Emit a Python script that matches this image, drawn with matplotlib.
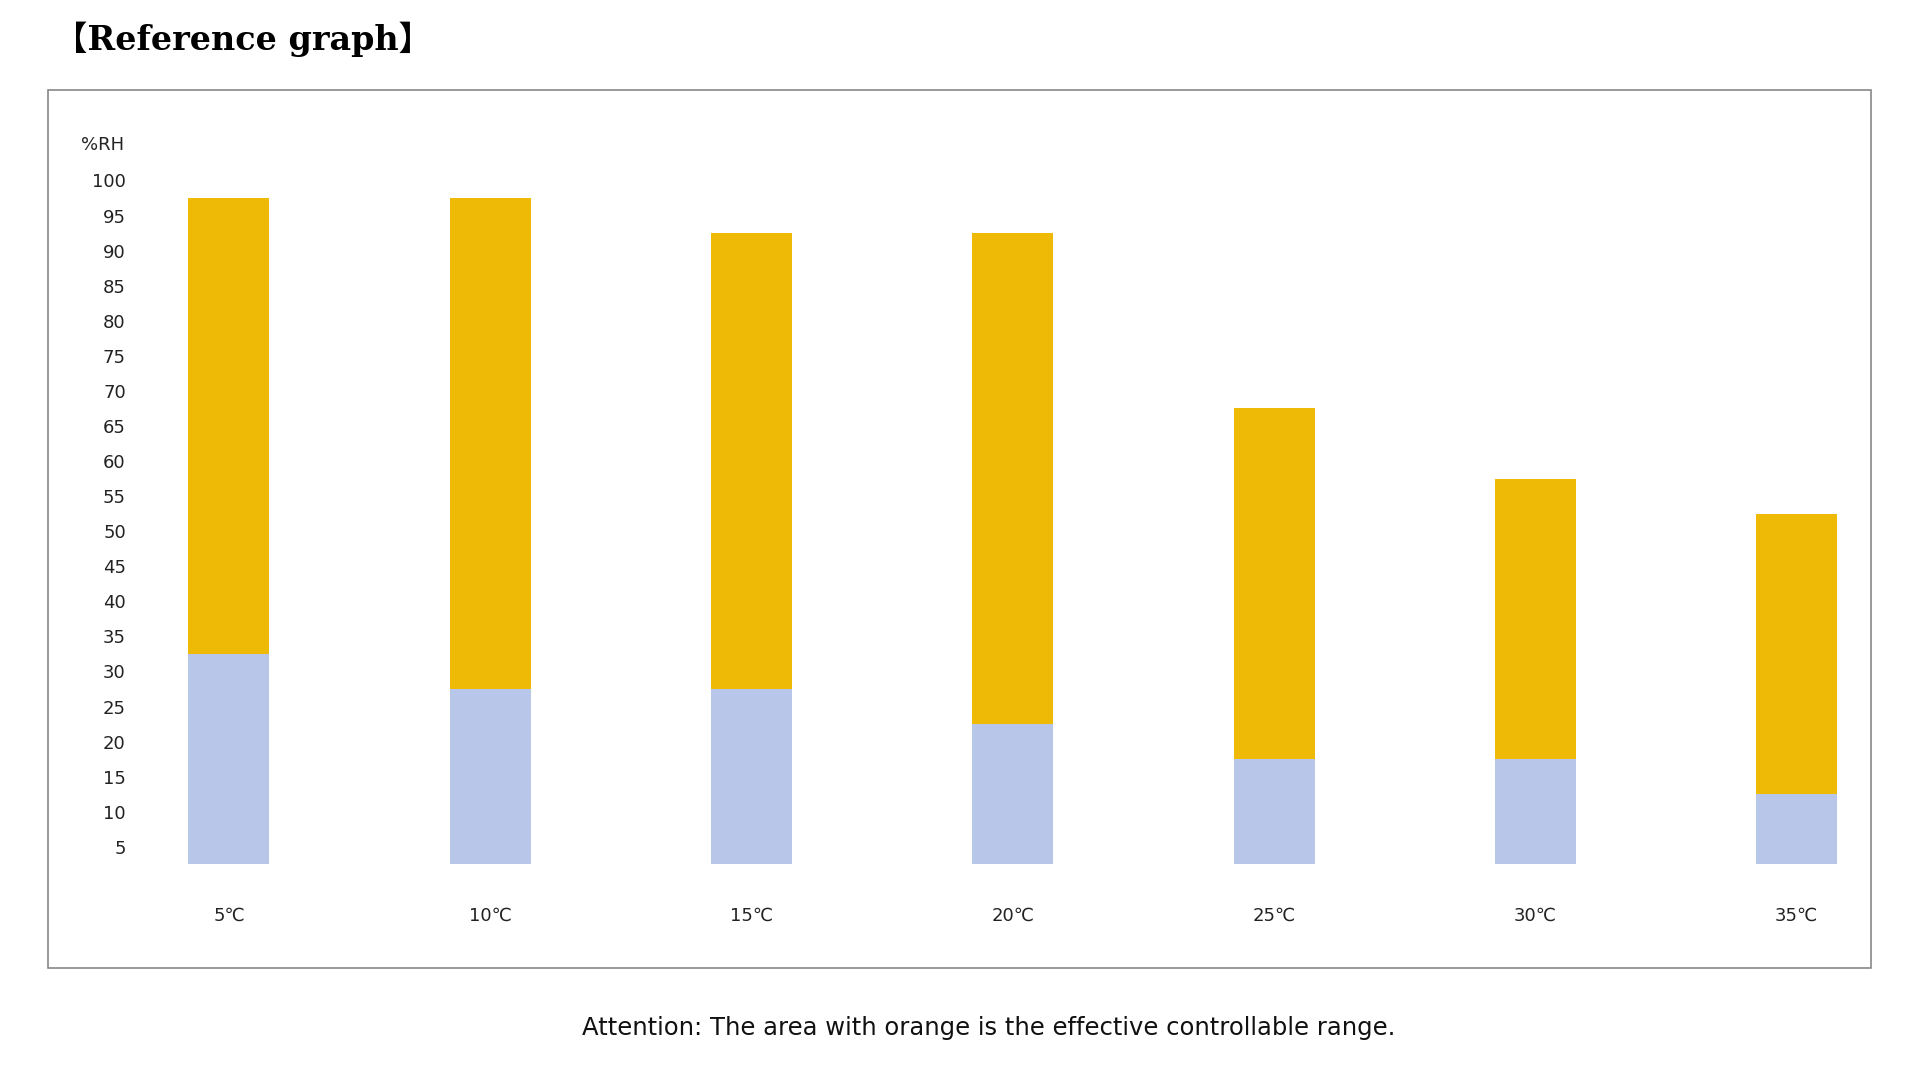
import matplotlib
matplotlib.use("Agg")
import matplotlib.pyplot as plt
from matplotlib.patches import Rectangle

plt.rcParams['font.family'] = ['DejaVu Sans', 'Noto Sans CJK SC']

# data (%RH)
temps = ['5℃', '10℃', '15℃', '20℃', '25℃', '30℃', '35℃']
base = 2.5
blue_top = [32.5, 27.5, 27.5, 22.5, 17.5, 17.5, 12.5]
orange_top = [97.5, 97.5, 92.5, 92.5, 67.5, 57.5, 52.5]
yticks = list(range(5, 101, 5))

blue = '#B8C7E9'
orange = '#EFBA05'

fig = plt.figure(figsize=(19.2, 10.8), dpi=100)

# outer frame
fig.add_artist(Rectangle((0.0249, 0.1034), 0.9496, 0.8136, transform=fig.transFigure,
                         fill=False, edgecolor='#888888', linewidth=1.2))

ax = fig.add_axes([0.067, 0.1834, 0.896, 0.682])
x = range(len(temps))
ax.bar(x, [b - base for b in blue_top], bottom=base, width=0.31, color=blue)
ax.bar(x, [o - b for o, b in zip(orange_top, blue_top)], bottom=blue_top, width=0.31, color=orange)

ax.set_xlim(-0.384, 6.2)
ax.set_ylim(0, 105)
ax.set_yticks(yticks)
ax.set_xticks(list(x))
ax.set_xticklabels(temps)
ax.tick_params(axis='both', length=0, labelsize=13, colors='#222222')
ax.tick_params(axis='x', pad=18)
ax.tick_params(axis='y', pad=2)
for s in ax.spines.values():
    s.set_visible(False)
ax.text(-0.4, 105, '%RH', ha='right', va='center', fontsize=13, color='#222222')

fig.text(0.028, 0.964, '【Reference graph】', fontsize=24, fontweight='bold',
         family=['DejaVu Serif', 'Noto Sans CJK SC'], va='center')
fig.text(0.515, 0.0477, 'Attention: The area with orange is the effective controllable range.',
         fontsize=17.5, ha='center', va='center', color='#111111')

fig.savefig('out.png', dpi=100)
